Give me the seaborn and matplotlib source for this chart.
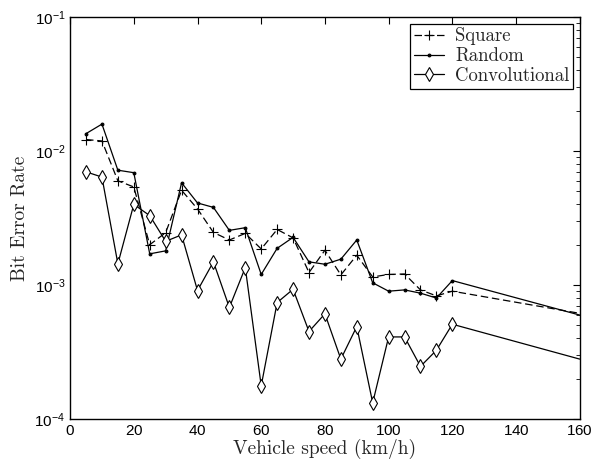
import numpy as np
import pandas as pd
import matplotlib
matplotlib.use("Agg")
import matplotlib.pyplot as plt
import seaborn as sns
from matplotlib.lines import Line2D
from matplotlib.ticker import LogLocator, MultipleLocator

# Data
speed = [5, 10, 15, 20, 25, 30, 35, 40, 45, 50, 55, 60, 65, 70, 75, 80,
         85, 90, 95, 100, 105, 110, 115, 120, 160]
ber_square = [1.22e-2, 1.19e-2, 6.0e-3, 5.4e-3, 2.0e-3, 2.46e-3, 5.1e-3,
              3.7e-3, 2.47e-3, 2.17e-3, 2.43e-3, 1.86e-3, 2.6e-3, 2.25e-3,
              1.24e-3, 1.82e-3, 1.19e-3, 1.67e-3, 1.15e-3, 1.2e-3, 1.21e-3,
              9.2e-4, 8.3e-4, 9.0e-4, 6.15e-4]
ber_random = [1.35e-2, 1.59e-2, 7.2e-3, 6.9e-3, 1.71e-3, 1.8e-3, 5.8e-3,
              4.1e-3, 3.8e-3, 2.56e-3, 2.68e-3, 1.2e-3, 1.88e-3, 2.27e-3,
              1.49e-3, 1.43e-3, 1.56e-3, 2.17e-3, 1.04e-3, 9.0e-4, 9.2e-4,
              8.7e-4, 8.0e-4, 1.08e-3, 5.97e-4]
ber_conv = [7.0e-3, 6.4e-3, 1.44e-3, 4.0e-3, 3.3e-3, 2.12e-3, 2.37e-3,
            9.1e-4, 1.49e-3, 6.8e-4, 1.35e-3, 1.77e-4, 7.4e-4, 9.3e-4,
            4.5e-4, 6.1e-4, 2.8e-4, 4.9e-4, 1.32e-4, 4.1e-4, 4.1e-4,
            2.47e-4, 3.26e-4, 5.1e-4, 2.8e-4]
labels = ["Square", "Random", "Convolutional"]

sns.set_style("white")
plt.rcParams["font.family"] = ["Liberation Sans", "DejaVu Sans"]
plt.rcParams["axes.formatter.use_mathtext"] = True
serif = "cmr10"

fig = plt.figure(figsize=(5.94, 4.63), dpi=100)
ax = fig.add_axes([0.118, 0.095, 0.858, 0.868])

# line style, marker, marker size, marker face
styles = [((0, (6, 3)), "+", 7, "black"),
          ("-", ".", 4, "black"),
          ("-", "d", 7, "white")]
series = [ber_square, ber_random, ber_conv]
n = len(speed) - 1  # last point lies past the marker range

handles = []
for ys, lab, (ls, mk, ms, fc) in zip(series, labels, styles):
    sns.lineplot(x=speed, y=ys, ax=ax, color="black", linewidth=0.9,
                 linestyle=ls, sort=False, estimator=None)
    ax.plot(speed[:n], ys[:n], linestyle="none", marker=mk, markersize=ms,
            markerfacecolor=fc, markeredgecolor="black", markeredgewidth=0.8,
            zorder=3)
    handles.append(Line2D([], [], color="black", linewidth=0.9, linestyle=ls,
                          marker=mk, markersize=ms, markerfacecolor=fc,
                          markeredgecolor="black", markeredgewidth=0.8))

ax.set_yscale("log")
ax.set_xlim(0, 160)
ax.set_ylim(1e-4, 1e-1)
ax.xaxis.set_major_locator(MultipleLocator(20))
ax.yaxis.set_major_locator(LogLocator(base=10))
ax.yaxis.set_minor_locator(LogLocator(base=10, subs=np.arange(2, 10)))
ax.tick_params(which="both", direction="in", top=True, right=True,
               colors="black", labelsize=11)
ax.tick_params(which="major", length=5, width=0.8)
ax.tick_params(which="minor", length=3, width=0.6)
for s in ax.spines.values():
    s.set_color("black")
    s.set_linewidth(1.0)

ax.set_xlabel("Vehicle speed (km/h)", fontfamily=serif, fontsize=14,
              labelpad=1)
ax.set_ylabel("Bit Error Rate", fontfamily=serif, fontsize=14, labelpad=4)

leg = ax.legend(handles, labels, loc="upper right",
                prop={"family": serif, "size": 13.5},
                handlelength=1.6, handletextpad=0.6, borderpad=0.2,
                labelspacing=0.1, borderaxespad=0.35, fancybox=False,
                framealpha=1, edgecolor="black")
leg.get_frame().set_linewidth(0.9)

fig.savefig("out.png", dpi=100)
